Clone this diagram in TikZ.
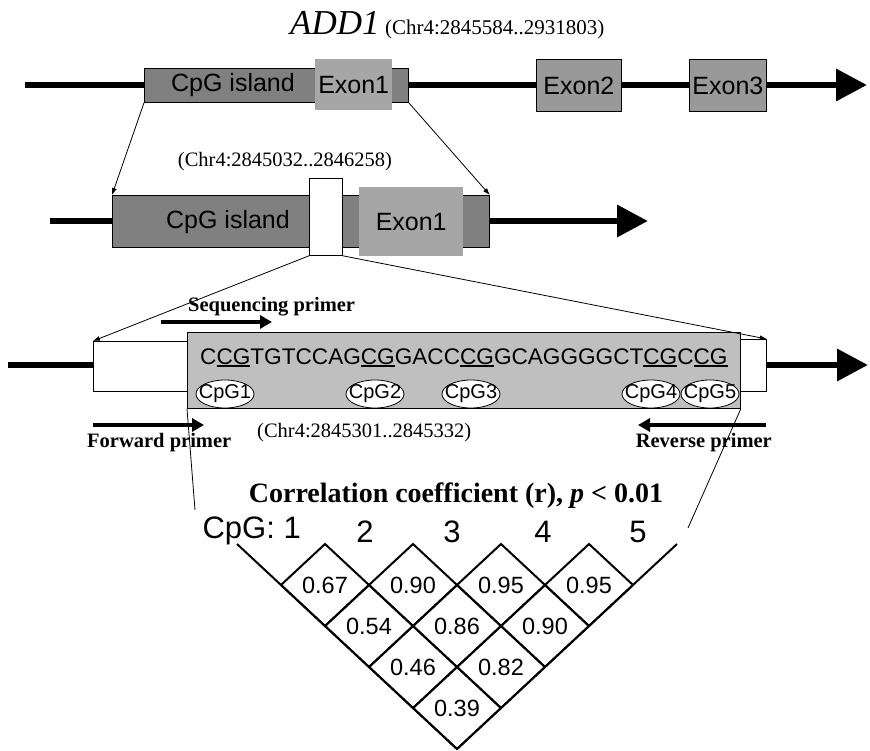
\documentclass[tikz,border=0pt]{standalone}
\usepackage{fontspec}
\setmainfont{Liberation Sans}
\newfontfamily\timesfont{Liberation Serif}
\usetikzlibrary{arrows.meta,calc,shapes.geometric}

\newcommand\sz[1]{\fontsize{#1}{#1}\selectfont}
% thick underline below a CG site
\newcommand\cgline[1]{\setbox0\hbox{#1}\rlap{\rule[-2.6pt]{\wd0}{1.3pt}}\box0}

\begin{document}
\begin{tikzpicture}[x=1pt,y=-1pt,>={Latex[length=7pt,width=5pt]},
  backbone/.style={line width=6.5pt,-{Triangle[length=31pt,width=31pt]}},
  island/.style={draw,line width=0.8pt,fill=black!50,inner sep=0pt,anchor=north west},
  exon/.style={fill=black!35,inner sep=0pt,anchor=north west,font=\sz{25}},
  exonline/.style={exon,draw,line width=0.8pt,fill=black!40},
  blank/.style={draw,line width=0.8pt,fill=white,inner sep=0pt,anchor=north west},
  genetxt/.style={font=\sz{25},inner sep=0pt},
  serif/.style={font=\timesfont\sz{20.5},inner sep=0pt},
  primertxt/.style={font=\timesfont\bfseries\sz{20.5},inner sep=0pt},
  zoomline/.style={line width=0.8pt,->},
  primer/.style={line width=4pt,-{Triangle[length=12pt,width=13pt]}},
  cpg/.style={draw,fill=white,ellipse,line width=0.8pt,inner xsep=-6pt,inner ysep=0pt,
              minimum width=58pt,minimum height=28pt,font=\sz{20}},
  ldgrid/.style={line width=2pt,line join=miter}
]
  \useasboundingbox (0,0) rectangle (870,751);

  % --------- knobs ----------
  \def\dw{44}   % half width of a diamond
  \def\dh{41}   % half height of a diamond
  % --------------------------

  % ============== Gene: whole locus =================
  \node[font=\timesfont\itshape\sz{35},anchor=base west,inner sep=0pt] (gene) at (290,35) {ADD1};
  \node[serif,font=\timesfont\sz{21},anchor=base west] (locA) at ($(gene.base east)+(5,0)$) {(Chr4:2845584..2931803)};

  \draw[backbone] (25,85) -- (867,85);
  \node[island,minimum width=264pt,minimum height=34pt] (islA) at (144,68) {};
  \node[genetxt] (islAtxt) at (233,85) {CpG island};
  \node[exon,minimum width=77pt,minimum height=51pt] (exA1) at (315,59) {Exon1};
  \node[exonline,minimum width=85pt,minimum height=52pt] (exA2) at (536,59) {Exon2};
  \node[exonline,minimum width=77pt,minimum height=52pt] (exA3) at (689,59) {Exon3};

  % ============== CpG island close up =================
  \node[serif] (locB) at (285,162) {(Chr4:2845032..2846258)};

  \draw[backbone] (50,221) -- (648,221);
  \node[island,minimum width=377pt,minimum height=52pt] (islB) at (112,195) {};
  \node[genetxt] (islBtxt) at (228,222) {CpG island};
  \node[blank,minimum width=33pt,minimum height=77pt] (win) at (309,178) {};
  \node[exon,minimum width=104pt,minimum height=69pt] (exB1) at (359,187) {Exon1};

  \draw[zoomline] (islA.south west) -- (islB.north west);
  \draw[zoomline] (islA.south east) -- (islB.north east);

  % ============== Amplicon =================
  \draw[backbone] (8,365) -- (868,365);
  \node[blank,minimum width=94pt,minimum height=50pt] (ampL) at (93,341) {};
  \node[blank,minimum width=26pt,minimum height=52pt] (ampR) at (740,339) {};
  \node[draw,line width=0.8pt,fill=black!25,inner sep=0pt,anchor=north west,
        minimum width=553pt,minimum height=76pt] (seqbox) at (187,332) {};

  \draw[zoomline] (win.south west) -- (ampL.north west);
  \draw[zoomline] (win.south east) -- (ampR.north east);

  \node[font=\sz{22.6},anchor=base west,inner sep=0pt] (seq) at (200,364)
    {C\cgline{CG}TGTCCAG\cgline{CG}GACC\cgline{CG}GCAGGGGCT\cgline{CG}C\cgline{CG}};

  % CpG sites
  \foreach \n/\x in {1/225,2/375,3/471,4/651,5/710}
    \node[cpg] (cpg\n) at (\x,394) {CpG\n};

  % primers
  \node[primertxt,anchor=base west] (seqp) at (188,312) {Sequencing primer};
  \coordinate (sp0) at (161,322);
  \coordinate (sp1) at (272,322);
  \draw[primer] (sp0) -- (sp1);

  \coordinate (fp0) at (93,425);
  \coordinate (fp1) at (204,425);
  \draw[primer] (fp0) -- (fp1);
  \node[primertxt,anchor=base west] (fwd) at (87,447) {Forward primer};

  \coordinate (rp0) at (766,425);
  \coordinate (rp1) at (638,425);
  \draw[primer] (rp0) -- (rp1);
  \node[primertxt,anchor=base east] (rev) at (772,447) {Reverse primer};

  \node[serif,anchor=base west] (locC) at (257,437) {(Chr4:2845301..2845332)};

  % lines down to the LD plot
  \coordinate (fl) at (195,510);
  \coordinate (fr) at (688,528);
  \draw[line width=0.8pt] (seqbox.south west) -- (fl);
  \draw[line width=0.8pt] (seqbox.south east) -- (fr);

  % ============== Correlation triangle =================
  \node[font=\timesfont\bfseries\sz{28},anchor=base,inner sep=0pt] (ldtitle) at (456,502)
    {Correlation coefficient (r), \textit{p} < 0.01};

  \node[font=\sz{31},anchor=base east,inner sep=0pt] (site1) at (301,538) {CpG: 1};
  \foreach \n/\x in {2/365,3/452,4/543,5/638}
    \node[font=\sz{31},anchor=base,inner sep=0pt] (site\n) at (\x,542) {\n};

  \coordinate (vl) at (325-2*\dw,585-\dh);
  \coordinate (vb) at (325+3*\dw,585+4*\dh);
  \coordinate (vr) at (325+8*\dw,585-\dh);
  \draw[ldgrid] (vl) -- (vb) -- (vr);

  \foreach \r/\vals in {1/{0.67,0.90,0.95,0.95},2/{0.54,0.86,0.90},3/{0.46,0.82},4/{0.39}}{
    \foreach \v [count=\k] in \vals {
      \pgfmathsetmacro\cx{325+\dw*(\r-1)+2*\dw*(\k-1)}
      \pgfmathsetmacro\cy{585+\dh*(\r-1)}
      \draw[ldgrid] (\cx-\dw,\cy) -- (\cx,\cy-\dh) -- (\cx+\dw,\cy) -- (\cx,\cy+\dh) -- cycle;
      \node[font=\sz{23.5},inner sep=0pt] (r\r c\k) at (\cx,\cy) {\v};
    }
  }

\end{tikzpicture}
\end{document}
